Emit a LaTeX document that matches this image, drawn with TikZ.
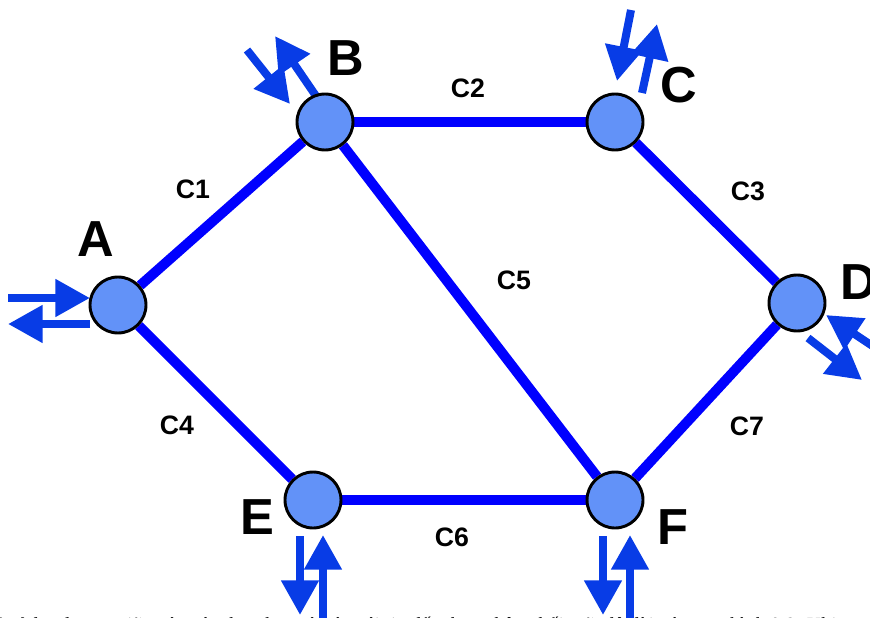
\documentclass[tikz,border=0pt]{standalone}
\usepackage{fontspec}
\setmainfont{Liberation Serif}
\newfontfamily\lsans{Liberation Sans}
\usetikzlibrary{arrows.meta,backgrounds}
\definecolor{edgeblue}{RGB}{0,0,255}
\definecolor{arrblue}{RGB}{8,60,230}
\definecolor{nodefill}{RGB}{98,146,248}
\begin{document}
\begin{tikzpicture}[x=0.75pt,y=-0.75pt,
 station/.style={circle,draw=black,line width=2.2pt,fill=nodefill,minimum size=42pt,inner sep=0pt},
 link/.style={draw=edgeblue,line width=7.5pt},
 flow/.style={draw=arrblue,line width=6pt,-{Triangle[length=26pt,width=27pt]}},
 nlabel/.style={font=\lsans\bfseries\fontsize{38}{38}\selectfont,inner sep=0pt},
 elabel/.style={font=\lsans\bfseries\fontsize{20}{20}\selectfont,inner sep=0pt},
 bottomtext/.style={font=\fontsize{15}{15}\selectfont,inner sep=0pt}]
\useasboundingbox (0,0) rectangle (870,617);
\clip (0,0) rectangle (870,617);
% stations
\node[station] (A) at (118,305) {};
\node[station] (B) at (325,122) {};
\node[station] (C) at (615,122) {};
\node[station] (D) at (797,303) {};
\node[station] (E) at (313,500) {};
\node[station] (F) at (615,500) {};
% arrow end points
\coordinate (a1s) at (8,298);   \coordinate (a1e) at (90,298);
\coordinate (a2s) at (90,324);  \coordinate (a2e) at (8,324);
\coordinate (b1s) at (247,50);  \coordinate (b1e) at (290,104);
\coordinate (b2s) at (316,96);  \coordinate (b2e) at (275,36);
\coordinate (c1s) at (631,10);  \coordinate (c1e) at (617,81);
\coordinate (c2s) at (642,93);  \coordinate (c2e) at (657,24);
\coordinate (d1s) at (808,338); \coordinate (d1e) at (862,380);
\coordinate (d2s) at (892,359); \coordinate (d2e) at (826,315);
\coordinate (e1s) at (300,536); \coordinate (e1e) at (300,615);
\coordinate (e2s) at (323,640); \coordinate (e2e) at (323,535);
\coordinate (f1s) at (603,536); \coordinate (f1e) at (603,615);
\coordinate (f2s) at (630,640); \coordinate (f2e) at (630,535);
\begin{pgfonlayer}{background}
\draw[link] (A) -- (B);
\draw[link] (B) -- (C);
\draw[link] (C) -- (D);
\draw[link] (A) -- (E);
\draw[link] (B) -- (F);
\draw[link] (E) -- (F);
\draw[link] (D) -- (F);
\draw[flow] (a1s) -- (a1e);
\draw[flow] (a2s) -- (a2e);
\draw[flow] (b1s) -- (b1e);
\draw[flow] (b2s) -- (b2e);
\draw[flow] (c1s) -- (c1e);
\draw[flow] (c2s) -- (c2e);
\draw[flow] (d1s) -- (d1e);
\draw[flow] (d2s) -- (d2e);
\draw[flow] (e1s) -- (e1e);
\draw[flow] (e2s) -- (e2e);
\draw[flow] (f1s) -- (f1e);
\draw[flow] (f2s) -- (f2e);
\end{pgfonlayer}
% station labels
\node[nlabel] (lA) at (96,239) {A};
\node[nlabel] (lB) at (346,58) {B};
\node[nlabel] (lC) at (679,85) {C};
\node[nlabel] (lD) at (859,282) {D};
\node[nlabel] (lE) at (257,517) {E};
\node[nlabel] (lF) at (673,527) {F};
% link labels
\node[elabel] (l1) at (193,189) {C1};
\node[elabel] (l2) at (468,88) {C2};
\node[elabel] (l3) at (748,191) {C3};
\node[elabel] (l4) at (177,425) {C4};
\node[elabel] (l5) at (514,280) {C5};
\node[elabel] (l6) at (452,537) {C6};
\node[elabel] (l7) at (747,426) {C7};
% clipped text line at the bottom
\node[bottomtext,anchor=base east] (t1) at (766,631) {Giả sử lưu lượng giữa các nút như nhau và các gói tin đến theo phân phối mũ, độ dài có trung bình};
\node[bottomtext,anchor=base west] (t2) at (770,631) {0.8. Khi};
\end{tikzpicture}
\end{document}
